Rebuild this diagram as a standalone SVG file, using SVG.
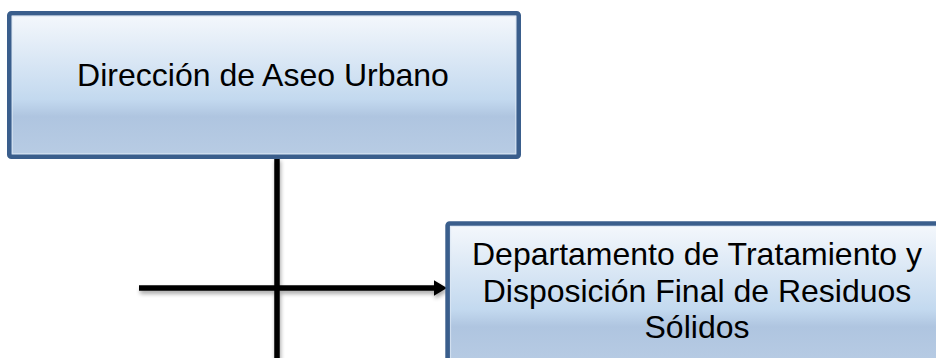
<svg xmlns="http://www.w3.org/2000/svg" width="936" height="358" viewBox="0 0 936 358">
<style>
.box{stroke:#3A5E8C;stroke-width:4.6;}
.inner{fill:none;stroke:#DCE7F4;stroke-width:1;opacity:0.8;}
.lbl{font-family:"Liberation Sans",Arial,sans-serif;font-size:32px;fill:#000;text-anchor:middle;}
.conn{stroke:#000;stroke-width:5.5;fill:none;}
</style>
<defs>
<linearGradient id="g" x1="0" y1="0" x2="0" y2="1">
<stop offset="0" stop-color="#F5F8FC"/>
<stop offset="0.6" stop-color="#C3D9EF"/>
<stop offset="0.72" stop-color="#AFC5E0"/>
<stop offset="1" stop-color="#B8CCE4"/>
</linearGradient>
<filter id="sh" x="-10%" y="-20%" width="120%" height="160%">
<feGaussianBlur in="SourceAlpha" stdDeviation="2"/>
<feOffset dx="1" dy="3" result="b"/>
<feComponentTransfer><feFuncA type="linear" slope="0.35"/></feComponentTransfer>
<feMerge><feMergeNode/><feMergeNode in="SourceGraphic"/></feMerge>
</filter>
<marker id="arr" markerUnits="userSpaceOnUse" markerWidth="16" markerHeight="18" refX="6.5" refY="8" orient="auto">
<path d="M0,0 L13.5,8 L0,16 Z" fill="#000"/>
</marker>
</defs>
<g id="connectors" filter="url(#sh)">
<line class="conn" x1="277" y1="158" x2="277" y2="360"/>
<line class="conn" x1="139" y1="288" x2="440" y2="288" marker-end="url(#arr)"/>
</g>
<g id="node-direccion">
<rect class="box" x="9.3" y="13.3" width="509.4" height="143.4" rx="2" fill="url(#g)"/>
<rect class="inner" x="12.3" y="16.3" width="503.4" height="137.4"/>
<text class="lbl" x="263" y="86">Dirección de Aseo Urbano</text>
</g>
<g id="node-departamento">
<rect class="box" x="447.6" y="223.5" width="509.4" height="143.4" rx="2" fill="url(#g)"/>
<rect class="inner" x="450.6" y="226.5" width="503.4" height="137.4"/>
<text class="lbl" x="697" y="265">Departamento de Tratamiento y</text>
<text class="lbl" x="697" y="301.5">Disposición Final de Residuos</text>
<text class="lbl" x="697" y="338">Sólidos</text>
</g>
</svg>
